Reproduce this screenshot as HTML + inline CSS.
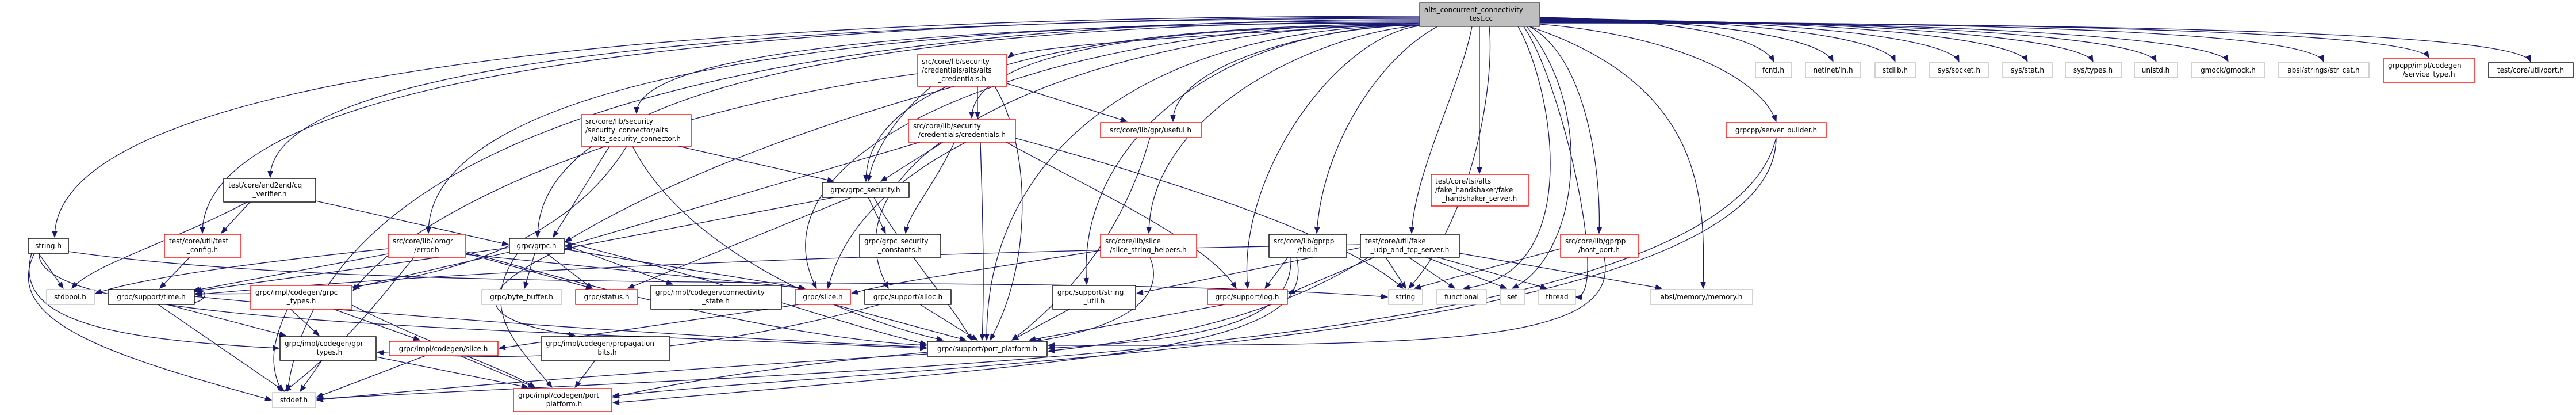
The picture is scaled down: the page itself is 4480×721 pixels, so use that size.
<!DOCTYPE html>
<html><head><meta charset="utf-8"><style>
html,body{margin:0;padding:0;background:#fff;}
svg{display:block}
text{font-family:"DejaVu Sans","Liberation Sans",sans-serif;font-size:12px;fill:#000}
.e{fill:none;stroke:#191970;stroke-width:1.3}
.b{fill:#fff;stroke:#000;stroke-width:1.4}
.r{fill:#fff;stroke:#ff0000;stroke-width:1.4}
.g{fill:#fff;stroke:#bfbfbf;stroke-width:1.4}
.m{text-anchor:middle}
</style></head><body>
<svg width="4480" height="721" viewBox="0 0 4480 721" xmlns="http://www.w3.org/2000/svg">
<defs><marker id="a" markerWidth="12" markerHeight="9" refX="11" refY="4.5" orient="auto" markerUnits="userSpaceOnUse"><path d="M0,0 L11,4.5 L0,9 z" fill="#191970" stroke="#191970"/></marker></defs>
<g class="e" marker-end="url(#a)">
<path d="M2469,28 C1045,28 95,144 95,412"/>
<path d="M2469,30 C1199,30 352,143 352,405"/>
<path d="M2469,32 C1270,32 470,115 470,308"/>
<path d="M2469,34 C1288,34 560,230 500,680"/>
<path d="M2469,36 C1435,36 745,147 745,405"/>
<path d="M2469,38 C1549,38 935,150 935,412"/>
<path d="M2469,40 C1652,40 1107,88 1107,197"/>
<path d="M2469,42 C1891,42 1506,125 1506,315"/>
<path d="M2469,40 C1840,40 1290,250 1420,501"/>
<path d="M2469,42 C1915,42 1410,260 1545,501"/>
<path d="M2469,44 C2001,44 1690,93 1690,205"/>
<path d="M2469,44 C2017,44 1713,250 1716,591"/>
<path d="M2469,44 C2121,44 1870,250 1890,494"/>
<path d="M2469,44 C2300,44 2040,110 2040,211"/>
<path d="M2469,44 C2280,60 2000,200 1998,405"/>
<path d="M2469,45 C2330,60 2150,300 2170,501"/>
<path d="M2469,40 C2100,60 1780,80 1753,100"/>
<path d="M2500,46 C2400,100 2300,250 2290,405"/>
<path d="M2573,46 L2573,301"/>
<path d="M2560,46 C2540,150 2460,300 2455,405"/>
<path d="M2590,46 C2600,150 2560,380 2450,501"/>
<path d="M2640,46 C2700,150 2760,480 2545,501"/>
<path d="M2650,46 C2720,150 2800,520 2740,516"/>
<path d="M2655,46 C2780,200 2740,450 2630,501"/>
<path d="M2660,46 C2970,150 2965,350 2962,501"/>
<path d="M2660,46 C2760,100 2785,300 2781,405"/>
<path d="M2678,30 C2945,35 3065,69 3085,107"/>
<path d="M2678,31 C3000,35 3170,69 3188,107"/>
<path d="M2678,32 C3080,34 3280,69 3296,107"/>
<path d="M2678,33 C3150,34 3390,69 3407,107"/>
<path d="M2678,34 C3230,34 3506,69 3526,107"/>
<path d="M2678,35 C3300,35 3620,69 3640,107"/>
<path d="M2678,36 C3380,36 3730,69 3750,107"/>
<path d="M2678,37 C3460,37 3855,69 3875,107"/>
<path d="M2678,38 C3560,38 4021,60 4041,107"/>
<path d="M2678,39 C3680,39 4200,60 4224,100"/>
<path d="M2678,40 C3800,40 4380,60 4401,107"/>
<path d="M2678,42 C2900,60 3060,130 3089,211"/>
<path d="M430,351 C300,420 160,460 125,501"/>
<path d="M435,351 L385,405"/>
<path d="M549,349 L884,425"/>
<path d="M330,447 L278,501"/>
<path d="M67,440 L110,501"/>
<path d="M60,440 C0,560 200,620 472,695"/>
<path d="M55,440 C20,560 200,590 485,605"/>
<path d="M119,437 C700,520 1800,470 2413,516"/>
<path d="M68,440 C60,560 800,570 1611,605"/>
<path d="M675,432 C500,450 250,480 166,510"/>
<path d="M680,440 L336,505"/>
<path d="M720,447 C660,520 600,600 495,680"/>
<path d="M810,440 L1030,501"/>
<path d="M810,437 C1100,520 1400,590 1611,600"/>
<path d="M810,442 L1400,501"/>
<path d="M886,430 L338,506"/>
<path d="M890,437 L614,500"/>
<path d="M930,440 L912,501"/>
<path d="M950,440 L1030,501"/>
<path d="M981,425 L1170,494"/>
<path d="M960,440 C800,520 850,560 1000,583"/>
<path d="M981,433 L1400,501"/>
<path d="M900,440 C830,540 900,600 960,673"/>
<path d="M981,420 C1300,500 1450,560 1611,598"/>
<path d="M505,537 L555,583"/>
<path d="M580,537 L730,591"/>
<path d="M500,537 C470,600 470,640 490,680"/>
<path d="M612,530 C750,600 880,640 930,673"/>
<path d="M275,529 L495,680"/>
<path d="M290,529 L497,583"/>
<path d="M338,515 C800,560 1300,590 1611,603"/>
<path d="M338,526 C360,520 365,505 338,503"/>
<path d="M560,626 L522,680"/>
<path d="M654,620 L918,673"/>
<path d="M740,618 L551,690"/>
<path d="M800,618 L930,673"/>
<path d="M1035,626 L1000,673"/>
<path d="M1613,612 C1400,630 1200,660 1066,690"/>
<path d="M1613,615 C1200,640 800,670 551,695"/>
<path d="M1660,150 C1300,250 1100,350 983,420"/>
<path d="M1700,150 L1700,205"/>
<path d="M1620,150 C1560,200 1520,260 1510,315"/>
<path d="M1751,145 L1960,211"/>
<path d="M1730,150 C1790,250 1800,450 1722,591"/>
<path d="M1596,128 C1200,180 750,330 614,505"/>
<path d="M1180,254 L1450,315"/>
<path d="M1060,254 L962,412"/>
<path d="M1090,254 C1000,400 800,520 340,510"/>
<path d="M1100,254 C1200,450 1500,560 1640,591"/>
<path d="M1600,247 L983,428"/>
<path d="M1640,247 L1532,315"/>
<path d="M1660,247 C1620,330 1580,370 1575,405"/>
<path d="M1680,247 C1520,330 1460,420 1440,501"/>
<path d="M1705,247 C1710,400 1712,500 1708,591"/>
<path d="M1750,247 C1900,330 2100,420 2150,501"/>
<path d="M1766,240 C2100,330 2350,420 2440,501"/>
<path d="M1450,343 L983,432"/>
<path d="M1480,343 L1092,501"/>
<path d="M1510,343 L1540,405"/>
<path d="M1520,343 C1560,420 1650,520 1690,591"/>
<path d="M2000,239 C1960,380 1880,500 1760,591"/>
<path d="M1914,435 C1700,470 1550,490 1481,510"/>
<path d="M2000,447 C2030,520 1950,570 1800,593"/>
<path d="M2240,447 L2200,501"/>
<path d="M2245,447 C2250,560 2100,590 1823,605"/>
<path d="M2255,447 C2290,600 2000,620 1066,700"/>
<path d="M2366,425 C1500,440 800,470 340,512"/>
<path d="M2380,447 C2200,560 2000,590 1823,610"/>
<path d="M2410,447 L2445,501"/>
<path d="M2450,447 L2530,501"/>
<path d="M2480,447 L2620,501"/>
<path d="M2500,447 L2690,501"/>
<path d="M2538,440 L2890,501"/>
<path d="M2390,447 L2241,510"/>
<path d="M2366,430 L1977,510"/>
<path d="M2714,432 L2460,501"/>
<path d="M2790,447 C2820,600 2500,600 1823,600"/>
<path d="M3089,239 C3089,600 1600,630 1066,688"/>
<path d="M3089,239 C3000,620 1500,640 551,693"/>
<path d="M1450,529 L1680,591"/>
<path d="M1390,529 L868,605"/>
<path d="M1530,529 C1200,620 900,630 656,612"/>
<path d="M1600,529 L1700,591"/>
<path d="M1860,537 L1760,591"/>
<path d="M2130,529 L1790,591"/>
</g>
<rect x="2469" y="5" width="209" height="41" fill="#bfbfbf" stroke="#404040" stroke-width="1.4"/>
<text x="2477" y="21">alts_concurrent_connectivity</text><text class="m" x="2573" y="36">_test.cc</text>
<rect class="b" x="389" y="310" width="160" height="41"/><text x="397" y="326">test/core/end2end/cq</text><text class="m" x="469" y="341">_verifier.h</text>
<rect class="r" x="1011" y="199" width="191" height="55"/><text x="1018" y="215">src/core/lib/security</text><text x="1018" y="230">/security_connector/alts</text><text class="m" x="1106" y="245">/alts_security_connector.h</text>
<rect class="b" x="49" y="414" width="70" height="26"/><text class="m" x="84" y="431">string.h</text>
<rect class="r" x="286" y="407" width="133" height="40"/><text x="294" y="423">test/core/util/test</text><text class="m" x="352" y="438">_config.h</text>
<rect class="r" x="675" y="407" width="135" height="40"/><text x="683" y="423">src/core/lib/iomgr</text><text class="m" x="742" y="438">/error.h</text>
<rect class="b" x="886" y="414" width="95" height="26"/><text class="m" x="933" y="431">grpc/grpc.h</text>
<rect class="g" x="81" y="503" width="83" height="26"/><text class="m" x="122" y="520">stdbool.h</text>
<rect class="b" x="188" y="503" width="150" height="26"/><text class="m" x="263" y="520">grpc/support/time.h</text>
<rect class="r" x="436" y="496" width="176" height="41"/><text x="444" y="512">grpc/impl/codegen/grpc</text><text class="m" x="524" y="527">_types.h</text>
<rect class="g" x="838" y="503" width="139" height="26"/><text class="m" x="907" y="520">grpc/byte_buffer.h</text>
<rect class="r" x="1001" y="503" width="108" height="26"/><text class="m" x="1055" y="520">grpc/status.h</text>
<rect class="b" x="487" y="585" width="167" height="41"/><text x="495" y="601">grpc/impl/codegen/gpr</text><text class="m" x="570" y="616">_types.h</text>
<rect class="r" x="677" y="593" width="189" height="25"/><text class="m" x="771" y="610">grpc/impl/codegen/slice.h</text>
<rect class="b" x="941" y="585" width="224" height="41"/><text x="949" y="601">grpc/impl/codegen/propagation</text><text class="m" x="1053" y="616">_bits.h</text>
<rect class="g" x="474" y="682" width="75" height="26"/><text class="m" x="511" y="699">stddef.h</text>
<rect class="r" x="893" y="675" width="171" height="40"/><text x="901" y="691">grpc/impl/codegen/port</text><text class="m" x="978" y="706">_platform.h</text>
<rect class="r" x="1596" y="95" width="155" height="55"/><text x="1603" y="111">src/core/lib/security</text><text x="1603" y="126">/credentials/alts/alts</text><text class="m" x="1673" y="141">_credentials.h</text>
<rect class="r" x="1580" y="207" width="186" height="40"/><text x="1588" y="223">src/core/lib/security</text><text class="m" x="1673" y="238">/credentials/credentials.h</text>
<rect class="r" x="1914" y="213" width="175" height="26"/><text class="m" x="2001" y="230">src/core/lib/gpr/useful.h</text>
<rect class="b" x="1430" y="317" width="151" height="26"/><text class="m" x="1505" y="334">grpc/grpc_security.h</text>
<rect class="b" x="1495" y="407" width="141" height="40"/><text x="1503" y="423">grpc/grpc_security</text><text class="m" x="1565" y="438">_constants.h</text>
<rect class="r" x="1914" y="407" width="167" height="40"/><text x="1922" y="423">src/core/lib/slice</text><text class="m" x="1997" y="438">/slice_string_helpers.h</text>
<rect class="b" x="2207" y="407" width="135" height="40"/><text x="2215" y="423">src/core/lib/gprpp</text><text class="m" x="2274" y="438">/thd.h</text>
<rect class="b" x="1132" y="496" width="227" height="41"/><text x="1140" y="512">grpc/impl/codegen/connectivity</text><text class="m" x="1245" y="527">_state.h</text>
<rect class="r" x="1383" y="503" width="96" height="26"/><text class="m" x="1431" y="520">grpc/slice.h</text>
<rect class="b" x="1504" y="503" width="150" height="26"/><text class="m" x="1579" y="520">grpc/support/alloc.h</text>
<rect class="b" x="1831" y="496" width="144" height="41"/><text x="1839" y="512">grpc/support/string</text><text class="m" x="1903" y="527">_util.h</text>
<rect class="r" x="2100" y="503" width="139" height="26"/><text class="m" x="2169" y="520">grpc/support/log.h</text>
<rect class="b" x="1613" y="593" width="208" height="26"/><text class="m" x="1717" y="610">grpc/support/port_platform.h</text>
<rect class="b" x="2366" y="407" width="172" height="40"/><text x="2374" y="423">test/core/util/fake</text><text class="m" x="2452" y="438">_udp_and_tcp_server.h</text>
<rect class="r" x="2714" y="407" width="135" height="40"/><text x="2722" y="423">src/core/lib/gprpp</text><text class="m" x="2781" y="438">/host_port.h</text>
<rect class="g" x="2415" y="503" width="59" height="26"/><text class="m" x="2444" y="520">string</text>
<rect class="g" x="2499" y="503" width="86" height="26"/><text class="m" x="2542" y="520">functional</text>
<rect class="g" x="2609" y="503" width="43" height="26"/><text class="m" x="2630" y="520">set</text>
<rect class="g" x="2676" y="503" width="64" height="26"/><text class="m" x="2708" y="520">thread</text>
<rect class="g" x="2870" y="503" width="178" height="26"/><text class="m" x="2959" y="520">absl/memory/memory.h</text>
<rect class="r" x="3002" y="213" width="174" height="26"/><text class="m" x="3089" y="230">grpcpp/server_builder.h</text>
<rect class="r" x="2489" y="303" width="169" height="55"/><text x="2496" y="319">test/core/tsi/alts</text><text x="2496" y="334">/fake_handshaker/fake</text><text class="m" x="2573" y="349">_handshaker_server.h</text>
<rect class="g" x="3053" y="109" width="63" height="26"/><text class="m" x="3084" y="126">fcntl.h</text>
<rect class="g" x="3140" y="109" width="96" height="26"/><text class="m" x="3188" y="126">netinet/in.h</text>
<rect class="g" x="3261" y="109" width="70" height="26"/><text class="m" x="3296" y="126">stdlib.h</text>
<rect class="g" x="3356" y="109" width="102" height="26"/><text class="m" x="3407" y="126">sys/socket.h</text>
<rect class="g" x="3483" y="109" width="86" height="26"/><text class="m" x="3526" y="126">sys/stat.h</text>
<rect class="g" x="3592" y="109" width="97" height="26"/><text class="m" x="3640" y="126">sys/types.h</text>
<rect class="g" x="3712" y="109" width="75" height="26"/><text class="m" x="3749" y="126">unistd.h</text>
<rect class="g" x="3811" y="109" width="128" height="26"/><text class="m" x="3875" y="126">gmock/gmock.h</text>
<rect class="g" x="3963" y="109" width="157" height="26"/><text class="m" x="4041" y="126">absl/strings/str_cat.h</text>
<rect class="r" x="4145" y="102" width="159" height="41"/><text x="4153" y="118">grpcpp/impl/codegen</text><text class="m" x="4224" y="133">/service_type.h</text>
<rect class="b" x="4328" y="109" width="147" height="26"/><text class="m" x="4401" y="126">test/core/util/port.h</text>
</svg>
</body></html>
